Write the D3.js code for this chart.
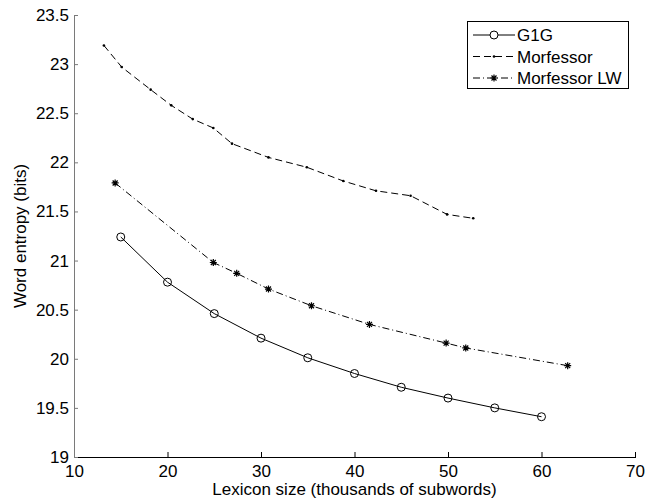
<!DOCTYPE html>
<html>
<head>
<meta charset="utf-8">
<script src="https://cdn.jsdelivr.net/npm/d3@7"></script>
<style>
  body { margin: 0; background: #fff; }
  text { font-family: "Liberation Sans", Arial, sans-serif; }
</style>
</head>
<body>
<div id="chart"></div>
<script>
// lexicon size in thousands of subwords, word entropy in bits
var g1gX = [15, 20, 25, 30, 35, 40, 45, 50, 55, 60];
var g1gY = [21.24, 20.78, 20.46, 20.21, 20.01, 19.85, 19.71, 19.60, 19.50, 19.41];

var morfX = [13.2, 15.1, 18.2, 20.4, 22.7, 24.9, 26.9, 30.8, 34.9, 38.8, 42.3, 46.0, 49.9, 52.7];
var morfY = [23.19, 22.97, 22.74, 22.58, 22.44, 22.35, 22.19, 22.05, 21.95, 21.81, 21.71, 21.66, 21.47, 21.43];

var lwX = [14.4, 24.9, 27.4, 30.8, 35.4, 41.6, 49.8, 51.9, 62.8];
var lwY = [21.79, 20.98, 20.87, 20.71, 20.54, 20.35, 20.16, 20.11, 19.93];

var xTicks = [10, 20, 30, 40, 50, 60, 70];
var yTicks = [19, 19.5, 20, 20.5, 21, 21.5, 22, 22.5, 23, 23.5];

var seriesNames = ["G1G", "Morfessor", "Morfessor LW"];

var width = 665, height = 500;
var margin = { top: 15, right: 30, bottom: 43, left: 74 };
var fontSize = "17px";

var svg = d3.select("#chart")
    .append("svg")
    .attr("width", width)
    .attr("height", height);

var x = d3.scaleLinear()
    .domain([10, 70])
    .range([margin.left, width - margin.right]);

var y = d3.scaleLinear()
    .domain([19, 23.5])
    .range([height - margin.bottom, margin.top]);

// axes (matlab style, ticks inside, no box)
var xAxis = svg.append("g")
    .attr("transform", "translate(0," + (height - margin.bottom) + ")")
    .call(d3.axisBottom(x).tickValues(xTicks).tickSizeInner(-5).tickSizeOuter(0).tickPadding(8));
xAxis.select(".domain").attr("stroke", "#000").attr("shape-rendering", "crispEdges");
xAxis.selectAll(".tick line").attr("stroke", "#000");
xAxis.selectAll("text").attr("font-size", fontSize).attr("fill", "#000");

var yAxis = svg.append("g")
    .attr("transform", "translate(" + margin.left + ",0)")
    .call(d3.axisLeft(y).tickValues(yTicks).tickSizeInner(-4).tickSizeOuter(0).tickPadding(5)
        .tickFormat(function(d) { return String(d); }));
yAxis.select(".domain").attr("stroke", "#7a7a7a");
yAxis.selectAll(".tick line").attr("stroke", "#7a7a7a");
yAxis.selectAll("text").attr("font-size", fontSize).attr("fill", "#000");

svg.append("text")
    .attr("x", (x(10) + x(70)) / 2)
    .attr("y", 495)
    .attr("text-anchor", "middle")
    .attr("font-size", fontSize)
    .text("Lexicon size (thousands of subwords)");

svg.append("text")
    .attr("transform", "translate(26," + ((y(19) + y(23.5)) / 2) + ") rotate(-90)")
    .attr("text-anchor", "middle")
    .attr("font-size", fontSize)
    .text("Word entropy (bits)");

function pts(xs, ys) {
    return xs.map(function(v, i) { return [v, ys[i]]; });
}

var line = d3.line()
    .x(function(d) { return x(d[0]); })
    .y(function(d) { return y(d[1]); });

var starPath = "M-3.5,0H3.5M0,-3.5V3.5M-2.5,-2.5L2.5,2.5M-2.5,2.5L2.5,-2.5";

// G1G
svg.append("path")
    .datum(pts(g1gX, g1gY))
    .attr("d", line)
    .attr("fill", "none")
    .attr("stroke", "#000")
    .attr("stroke-width", 1);

svg.append("g").selectAll("circle")
    .data(pts(g1gX, g1gY))
    .enter()
    .append("circle")
    .attr("cx", function(d) { return x(d[0]); })
    .attr("cy", function(d) { return y(d[1]); })
    .attr("r", 4)
    .attr("fill", "none")
    .attr("stroke", "#000");

// Morfessor
svg.append("path")
    .datum(pts(morfX, morfY))
    .attr("d", line)
    .attr("fill", "none")
    .attr("stroke", "#000")
    .attr("stroke-width", 1)
    .attr("stroke-dasharray", "7,4");

svg.append("g").selectAll("circle")
    .data(pts(morfX, morfY))
    .enter()
    .append("circle")
    .attr("cx", function(d) { return x(d[0]); })
    .attr("cy", function(d) { return y(d[1]); })
    .attr("r", 1.3)
    .attr("fill", "#000");

// Morfessor LW
svg.append("path")
    .datum(pts(lwX, lwY))
    .attr("d", line)
    .attr("fill", "none")
    .attr("stroke", "#000")
    .attr("stroke-width", 1)
    .attr("stroke-dasharray", "7,3,1,3");

svg.append("g").selectAll("path")
    .data(pts(lwX, lwY))
    .enter()
    .append("path")
    .attr("transform", function(d) { return "translate(" + x(d[0]) + "," + y(d[1]) + ")"; })
    .attr("d", starPath)
    .attr("stroke", "#000")
    .attr("stroke-width", 1.2);

// legend
var legend = svg.append("g");
legend.append("rect")
    .attr("x", 467.5)
    .attr("y", 21.5)
    .attr("width", 161)
    .attr("height", 67)
    .attr("fill", "#fff")
    .attr("stroke", "#000");

var legendY = [35, 56.5, 78];
var dashes = [null, "7,4", "7,3,1,3"];

seriesNames.forEach(function(name, i) {
    var ly = legendY[i];
    var row = legend.append("g");
    row.append("line")
        .attr("x1", 473).attr("x2", 515)
        .attr("y1", ly).attr("y2", ly)
        .attr("stroke", "#000")
        .attr("stroke-dasharray", dashes[i]);
    if (i === 0) {
        row.append("circle").attr("cx", 494).attr("cy", ly).attr("r", 4)
            .attr("fill", "#fff").attr("stroke", "#000");
    } else if (i === 1) {
        row.append("circle").attr("cx", 494).attr("cy", ly).attr("r", 1.3).attr("fill", "#000");
    } else {
        row.append("path").attr("transform", "translate(494," + ly + ")")
            .attr("d", starPath).attr("stroke", "#000").attr("stroke-width", 1.2);
    }
    row.append("text")
        .attr("x", 517)
        .attr("y", ly + 6)
        .attr("font-size", fontSize)
        .text(name);
});
</script>
</body>
</html>
